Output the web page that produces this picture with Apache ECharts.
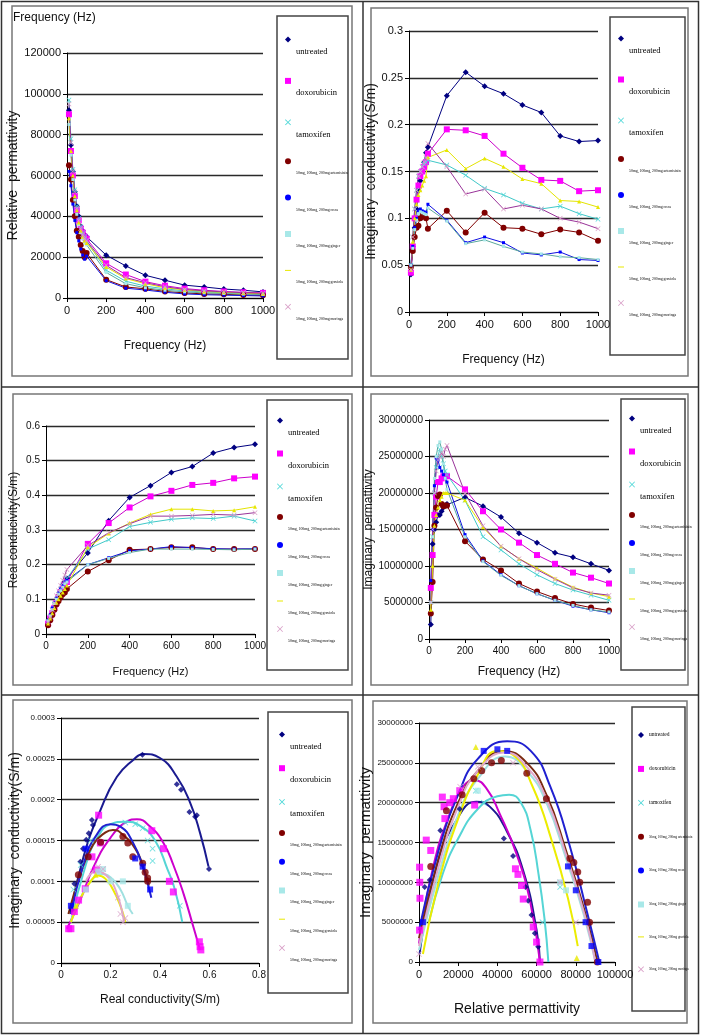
<!DOCTYPE html>
<html><head><meta charset="utf-8">
<script src="https://cdn.jsdelivr.net/npm/echarts@6/dist/echarts.min.js"></script>
<style>html,body{margin:0;padding:0;background:#fff}#c{width:701px;height:1036px}</style>
</head><body><div id="c"></div><script>
// ---------- data ----------
const names = ['untreated','doxorubicin','tamoxifen','50mg, 100mg, 200mg artemisinin','50mg, 100mg, 200mg cress','50mg, 100mg, 200mg ginger','50mg, 100mg, 200mg graviola','50mg, 100mg, 200mg moringa'];
const freq = [10,20,30,40,50,60,70,80,90,100,200,300,400,500,600,700,800,900,1000];

// Panel 1: relative permittivity vs frequency
const relPerm = [
 [92000,75000,62000,52000,45000,40000,35000,33000,31000,30000,21000,15700,11100,8700,6300,5400,4400,3800,3000],
 [90000,72000,60000,50000,43000,38000,34000,32000,30000,29000,17000,11500,8000,6000,4600,3800,3200,2800,2500],
 [97000,78000,63000,53000,45000,39000,35000,32000,30000,28000,13600,8200,5800,4500,3500,3000,2500,2200,2000],
 [65000,58000,48000,40000,33000,30000,26000,23000,20000,22000,9000,5400,4500,3200,2500,2000,1800,1500,1300],
 [62000,55000,46000,38000,32000,28000,24000,21000,19000,20500,8500,4800,3900,2800,2000,1600,1400,1200,1000],
 [85000,70000,58000,48000,41000,36000,32000,29000,27000,26000,12500,7000,5000,3800,3000,2500,2200,1900,1700],
 [88000,72000,60000,50000,43000,37000,33000,30000,28000,27000,15200,9500,7000,5000,4000,3200,2800,2400,2100],
 [95000,76000,62000,52000,44000,38000,34000,31000,29000,28000,16000,10000,7500,5500,4200,3500,3000,2600,2300]
];
// Panel 2: imaginary conductivity vs frequency
const imagCond = [
 [0.04,0.07,0.09,0.11,0.13,0.14,0.15,0.16,0.17,0.176,0.231,0.256,0.241,0.233,0.221,0.213,0.188,0.182,0.183],
 [0.042,0.07,0.1,0.12,0.135,0.145,0.15,0.155,0.16,0.169,0.195,0.194,0.188,0.169,0.154,0.141,0.140,0.129,0.130],
 [0.05,0.08,0.11,0.13,0.145,0.15,0.155,0.158,0.16,0.162,0.157,0.146,0.132,0.125,0.116,0.11,0.113,0.105,0.099],
 [0.048,0.065,0.08,0.09,0.092,0.1,0.105,0.103,0.1,0.089,0.108,0.085,0.106,0.09,0.089,0.083,0.088,0.085,0.076],
 [0.05,0.07,0.09,0.1,0.108,0.11,0.108,0.107,0.106,0.115,0.098,0.074,0.080,0.074,0.063,0.061,0.064,0.056,0.055],
 [0.05,0.068,0.088,0.098,0.105,0.107,0.106,0.105,0.104,0.111,0.097,0.073,0.077,0.070,0.064,0.062,0.059,0.058,0.056],
 [0.045,0.075,0.1,0.115,0.125,0.13,0.135,0.14,0.145,0.165,0.173,0.153,0.164,0.155,0.142,0.137,0.119,0.118,0.112],
 [0.045,0.08,0.11,0.13,0.145,0.15,0.155,0.16,0.165,0.180,0.155,0.126,0.131,0.110,0.114,0.110,0.100,0.096,0.089]
];
// Panel 3: real conductivity vs frequency
const realCond = [
 [0.03,0.045,0.06,0.08,0.095,0.11,0.125,0.14,0.15,0.16,0.234,0.327,0.394,0.428,0.466,0.483,0.522,0.538,0.547],
 [0.03,0.045,0.06,0.075,0.09,0.105,0.12,0.13,0.14,0.15,0.26,0.32,0.365,0.397,0.413,0.43,0.436,0.449,0.454],
 [0.035,0.05,0.07,0.085,0.1,0.115,0.13,0.14,0.15,0.16,0.245,0.272,0.31,0.322,0.331,0.335,0.333,0.34,0.326],
 [0.025,0.04,0.055,0.07,0.085,0.095,0.105,0.115,0.12,0.13,0.18,0.213,0.243,0.245,0.25,0.25,0.245,0.245,0.245],
 [0.04,0.055,0.075,0.09,0.105,0.12,0.13,0.14,0.15,0.155,0.2,0.22,0.24,0.245,0.252,0.249,0.246,0.245,0.246],
 [0.038,0.052,0.07,0.088,0.1,0.115,0.125,0.135,0.145,0.15,0.2,0.218,0.235,0.245,0.245,0.245,0.244,0.243,0.245],
 [0.03,0.045,0.06,0.075,0.09,0.1,0.11,0.12,0.13,0.14,0.25,0.29,0.32,0.345,0.36,0.36,0.355,0.357,0.367],
 [0.035,0.05,0.07,0.09,0.11,0.125,0.14,0.155,0.17,0.186,0.255,0.292,0.318,0.34,0.34,0.342,0.345,0.343,0.35]
];
// Panel 4: imaginary permittivity vs frequency
const imagPerm = [
 [2e6,13e6,15e6,16e6,17e6,17e6,17.5e6,18e6,18.3e6,18.5e6,19.4e6,18.2e6,16.7e6,14.5e6,13.2e6,11.8e6,11.2e6,10.3e6,9.4e6],
 [7e6,11.5e6,17e6,19.5e6,21.5e6,21.5e6,22e6,22.3e6,22.3e6,22.3e6,20.5e6,17.5e6,15e6,13.2e6,11.5e6,10.3e6,9.1e6,8.4e6,7.6e6],
 [5e6,14e6,20e6,23.5e6,25e6,26e6,25e6,24e6,23e6,22.5e6,19e6,14e6,12.2e6,10.3e6,8.8e6,7.6e6,6.7e6,6e6,5.3e6],
 [3.5e6,7.8e6,15.5e6,18e6,19.6e6,19.8e6,18.5e6,18.2e6,18.3e6,18.3e6,13.4e6,10.9e6,9.4e6,7.6e6,6.5e6,5.6e6,4.8e6,4.3e6,3.9e6],
 [8e6,15e6,21e6,24.8e6,24.5e6,23.5e6,23e6,22.5e6,22e6,21.5e6,14.3e6,10.7e6,8.8e6,7.3e6,6.2e6,5.3e6,4.5e6,4e6,3.6e6],
 [5e6,14e6,22e6,25e6,26.5e6,27e6,26e6,24e6,22e6,20.5e6,14e6,10.6e6,8.7e6,7.3e6,6.2e6,5.3e6,4.6e6,4e6,3.7e6],
 [4e6,10e6,15.5e6,17e6,18e6,19e6,19.5e6,20e6,20e6,20e6,19e6,15.3e6,12.7e6,11e6,9.7e6,8.3e6,7.1e6,6.3e6,5.8e6],
 [5e6,15e6,20e6,23e6,24.5e6,25e6,25.5e6,25e6,26e6,26.5e6,20e6,15.5e6,12.7e6,11e6,9.5e6,8.2e6,7e6,6.3e6,6e6]
];
// Panel 5: imaginary vs real conductivity (points and fitted curves)
const condPts = [
 [[0.044,0.000065],[0.054,0.000097],[0.078,0.000124],[0.089,0.00014],[0.102,0.000151],[0.112,0.000159],[0.125,0.000175],[0.129,0.000169],[0.329,0.000255],[0.468,0.000219],[0.485,0.000212],[0.519,0.000185],[0.542,0.000179],[0.549,0.000181],[0.598,0.000115]],
 [[0.031,0.000042],[0.04,0.000042],[0.054,0.000063],[0.071,0.000077],[0.098,0.000091],[0.125,0.00013],[0.143,0.000114],[0.152,0.000181],[0.159,0.000147],[0.367,0.000162],[0.414,0.00014],[0.438,0.0001],[0.454,0.000087],[0.559,0.000026],[0.562,0.00002],[0.565,0.000016]],
 [[0.05,0.00009],[0.08,0.00012],[0.12,0.00015],[0.26,0.000172],[0.3,0.00017],[0.33,0.000165],[0.35,0.00015],[0.37,0.00014],[0.37,0.000125],[0.48,0.00007]],
 [[0.07,0.000108],[0.11,0.00013],[0.16,0.000148],[0.25,0.000155],[0.27,0.000147],[0.29,0.00013],[0.33,0.000122],[0.34,0.000111],[0.35,0.000104],[0.35,0.0001]],
 [[0.04,0.00007],[0.1,0.00014],[0.3,0.000128],[0.33,0.000118],[0.36,0.00009]],
 [[0.1,0.00009],[0.15,0.000112],[0.17,0.000115],[0.2,0.0001],[0.25,0.0001],[0.27,0.00007]],
 [[0.06,0.00007],[0.14,0.000108]],
 [[0.13,0.000112],[0.15,0.000118],[0.17,0.000115],[0.23,0.00008],[0.24,0.00006],[0.25,0.00005],[0.26,0.000055]]
];
const condFit = [
 [[0.038,0.00006],[0.091,0.00013],[0.159,0.000187],[0.226,0.000228],[0.293,0.000249],[0.333,0.000256],[0.4,0.000251],[0.468,0.000228],[0.522,0.000196],[0.562,0.000159],[0.596,0.000118]],
 [[0.024,0.000042],[0.078,0.000077],[0.132,0.000118],[0.199,0.000153],[0.266,0.000173],[0.307,0.000176],[0.36,0.000167],[0.414,0.000147],[0.454,0.00012],[0.495,0.000085],[0.535,0.000044],[0.562,0.000016]],
 [[0.04,0.00005],[0.1,0.00012],[0.15,0.000155],[0.2,0.00017],[0.26,0.000173],[0.32,0.000168],[0.38,0.00015],[0.43,0.000115],[0.46,0.00009],[0.49,0.00005]],
 [[0.03,0.00006],[0.08,0.00011],[0.13,0.000145],[0.18,0.00016],[0.21,0.000163],[0.25,0.000157],[0.3,0.00014],[0.33,0.00012],[0.355,0.000095]],
 [[0.04,0.00006],[0.09,0.00012],[0.14,0.000155],[0.2,0.00017],[0.24,0.000167],[0.29,0.000148],[0.33,0.000118],[0.365,0.00008]],
 [[0.04,0.00005],[0.08,0.00008],[0.12,0.0001],[0.16,0.000109],[0.2,0.000105],[0.24,0.00009],[0.27,0.00007],[0.29,0.00006]],
 [[0.04,0.00005],[0.08,0.00008],[0.12,0.0001],[0.15,0.000107],[0.18,0.000103],[0.21,0.00009],[0.24,0.00007],[0.26,0.00005]],
 [[0.1,0.0001],[0.14,0.000112],[0.18,0.000108],[0.22,0.00009],[0.255,0.00005]]
];
// Panel 6: imaginary vs relative permittivity (points and fitted curves)
const permPts = [
 [[2900,9.4e6],[5500,10.3e6],[10900,16.5e6],[20800,19.2e6],[43300,15.5e6],[48000,13.3e6],[54300,9.4e6],[55700,7.7e6],[57400,5.9e6],[59100,3.6e6],[60800,1.9e6]],
 [[300,11.9e6],[400,10e6],[500,8e6],[300,4e6],[3700,15.3e6],[6000,14e6],[11900,20.7e6],[12800,19.5e6],[13200,18e6],[15700,20e6],[17500,20.5e6],[20800,21.5e6],[28400,19.7e6],[49200,11.7e6],[50500,11e6],[52300,9.6e6],[53200,7.9e6],[58300,4.4e6],[60000,2.5e6],[61700,0]],
 [[29000,21.5e6],[33000,20e6],[63000,5e6],[72000,9.4e6]],
 [[6000,12e6],[14000,19e6],[22000,21e6],[28000,23e6],[32000,24e6],[37000,25e6],[42000,25.3e6],[55000,23.7e6],[65000,20.5e6],[77000,13e6],[79000,12.5e6],[81000,11.3e6],[82000,10e6],[86000,7.5e6],[87000,5e6],[91000,0]],
 [[2000,5e6],[33000,26.5e6],[40000,26.7e6],[45000,26.5e6],[76000,12e6],[80000,9e6],[85000,5e6],[88000,2e6],[91500,0]],
 [[30000,21.5e6],[72000,10e6],[75000,9e6]],
 [[29000,27e6],[80500,0.5e6]],
 [[0,1e6],[21000,22e6],[30000,24.5e6],[48000,25e6],[72000,10e6],[80000,5e6]]
];
const permFit = [
 [[300,1e6],[8900,11.9e6],[19100,17.8e6],[29300,20.1e6],[36100,19.5e6],[44600,16.5e6],[53100,11.5e6],[60000,4e6],[61700,0]],
 [[0,2.3e6],[7200,11.9e6],[15700,18.6e6],[22500,22e6],[28400,22.8e6],[34400,21.8e6],[41200,18.6e6],[49700,13.6e6],[56600,7.7e6],[61700,0]],
 [[5000,5e6],[12000,11e6],[20000,15.5e6],[30000,19.2e6],[40000,20.8e6],[46000,21e6],[52000,20e6],[57000,16.5e6],[61000,11e6],[64000,5.5e6],[66000,0]],
 [[0,3e6],[10000,13e6],[20000,20e6],[30000,24e6],[43000,26.5e6],[55000,25e6],[65000,21e6],[75000,14e6],[85000,6e6],[91000,0]],
 [[0,4e6],[10000,14e6],[20000,21e6],[30000,25.5e6],[45000,27.7e6],[57000,26.5e6],[67000,22e6],[77000,14.5e6],[86000,6e6],[92000,0]],
 [[0,1.5e6],[10000,11e6],[20000,18.5e6],[30000,23e6],[44000,25.8e6],[55000,24e6],[65000,20e6],[75000,13e6],[84000,6e6],[90000,0]],
 [[2000,1e6],[10000,10e6],[20000,18e6],[30000,23.5e6],[40000,26.5e6],[48000,26e6],[58000,22e6],[68000,15e6],[76000,8e6],[81000,2e6]],
 [[0,2e6],[10000,12e6],[20000,19.5e6],[30000,24e6],[44000,26.3e6],[55000,24.5e6],[65000,20.5e6],[75000,13.5e6],[85000,5.5e6],[90000,0]]
];

// ---------- style ----------
const XSYM = 'path://M0,1L1,0L5,4L9,0L10,1L6,5L10,9L9,10L5,6L1,10L0,9L4,5Z';
const DASH = 'path://M0,0L12,0L12,2L0,2Z';
const lineColors = ['#000080','#cc00cc','#40c8c8','#800000','#1010e0','#5aa89c','#e4e400','#993399'];
const markColors = ['#000080','#ff00ff','#50d8d8','#800000','#0000ff','#a8e8e8','#e8e800','#d9a0c8'];
const fitColors  = ['#1a1a90','#cc00cc','#55d5d5','#7a2a10','#2020d0','#a0e0e0','#ecec00','#e0a8cc'];
const symbols = ['diamond','rect',XSYM,'circle','rect','rect','triangle',XSYM];
const symSize = [6,6,5,6,3,3,4,5];
const legIcons = ['diamond','rect',XSYM,'circle','circle','rect',DASH,XSYM];
const FONT = 'Liberation Sans';
const fmt = v => String(+(+v).toPrecision(10));

const grids = [
 {left:67, top:53, width:196, height:245},
 {left:409, top:31, width:189, height:281},
 {left:46, top:426, width:209, height:208},
 {left:429, top:420, width:180, height:219},
 {left:61, top:718, width:198, height:245},
 {left:419, top:723, width:196, height:239}
];
const xCfg = [
 {max:1000, interval:200, name:'Frequency (Hz)', gap:42, fs:12, lfs:11},
 {max:1000, interval:200, name:'Frequency (Hz)', gap:42, fs:12, lfs:11},
 {max:1000, interval:200, name:'Frequency (Hz)', gap:32, fs:11, lfs:10},
 {max:1000, interval:200, name:'Frequency (Hz)', gap:27, fs:12, lfs:10},
 {max:0.8, interval:0.2, name:'Real conductivity(S/m)', gap:31, fs:12, lfs:10},
 {max:100000, interval:20000, name:'Relative permattivity', gap:40, fs:14, lfs:11}
];
const yCfg = [
 {max:120000, interval:20000, name:'Relative  permattivity', gap:45, fs:14, lfs:11},
 {max:0.3, interval:0.05, name:'Imaginary  conductivity(S/m)', gap:26, fs:14, lfs:11},
 {max:0.6, interval:0.1, name:'Real conducivity(S/m)', gap:26, fs:12, lfs:10},
 {max:30000000, interval:5000000, name:'Imaginary  permattivity', gap:46, fs:12, lfs:10},
 {max:0.0003, interval:0.00005, name:'Imaginary  conductivity(S/m)', gap:28, fs:14, lfs:8},
 {max:30000000, interval:5000000, name:'Imaginary  permattivity', gap:36, fs:15, lfs:8}
];
const xAxis = xCfg.map((c,i)=>({
 type:'value', gridIndex:i, min:0, max:c.max, interval:c.interval,
 name:c.name, nameLocation:'middle', nameGap:c.gap,
 nameTextStyle:{fontFamily:FONT, fontSize:c.fs, color:'#111'},
 axisLine:{show:true, onZero:false, lineStyle:{color:'#000', width:1}},
 axisTick:{show:true, length:4, lineStyle:{color:'#000'}},
 axisLabel:{fontFamily:FONT, fontSize:c.lfs, color:'#111', margin:7, formatter:fmt, hideOverlap:false},
 splitLine:{show:false}
}));
const yAxis = yCfg.map((c,i)=>({
 type:'value', gridIndex:i, min:0, max:c.max, interval:c.interval,
 name:c.name, nameLocation:'middle', nameGap:c.gap,
 nameTextStyle:{fontFamily:FONT, fontSize:c.fs, color:'#111'},
 axisLine:{show:true, lineStyle:{color:'#000', width:1}},
 axisTick:{show:true, length:4, lineStyle:{color:'#000'}},
 axisLabel:{fontFamily:FONT, fontSize:c.lfs, color:'#111', margin:6, formatter:fmt, hideOverlap:false},
 splitLine:{show:true, lineStyle:{color:'#2a2a2a', width:1.3}}
}));

const series = [];
[relPerm, imagCond, realCond, imagPerm].forEach((tbl,p)=>{
 tbl.forEach((vals,s)=>{
  series.push({
   type:'line', name:names[s], xAxisIndex:p, yAxisIndex:p,
   data: freq.map((f,k)=>[f, vals[k]]),
   symbol:symbols[s], symbolSize:symSize[s], showAllSymbol:true,
   lineStyle:{width:1, color:lineColors[s]},
   itemStyle:{color:markColors[s]}
  });
 });
});
[[condPts,condFit,4],[permPts,permFit,5]].forEach(([pts,fit,p])=>{
 fit.forEach((curve,s)=>{
  series.push({
   type:'line', name:names[s], xAxisIndex:p, yAxisIndex:p, data:curve,
   smooth:0.5, showSymbol:false, symbol:'none',
   lineStyle:{width:2, color:fitColors[s]}, itemStyle:{color:fitColors[s]}
  });
 });
 pts.forEach((pp,s)=>{
  series.push({
   type:'scatter', name:names[s], xAxisIndex:p, yAxisIndex:p, data:pp,
   symbol:symbols[s], symbolSize:s===1?7:(s===3?7:6),
   itemStyle:{color:markColors[s]}, z:3
  });
 });
});

function legend(left, top, gap, fb, fs, pad){
 return {
  orient:'vertical', left, top, itemGap:gap, itemWidth:6, itemHeight:6, padding:0,
  selectedMode:false, icon:'rect',
  data: names.map((n,i)=>({name:n, icon:legIcons[i], itemStyle:{color:markColors[i]}})),
  formatter: n => n.length>12 ? '{s|'+n+'}' : '{b|'+n+'}',
  textStyle:{rich:{
   b:{fontSize:fb, fontFamily:'Liberation Serif', color:'#000', lineHeight:10, padding:[pad,0,0,0]},
   s:{fontSize:fs, fontFamily:'Liberation Serif', color:'#000', lineHeight:10, padding:[pad,0,0,0]}
  }}
 };
}
const legends = [
 legend(285, 23, 8.4, 8.5, 3.8, 24),
 legend(618, 22, 8, 8.5, 3.8, 24),
 legend(277, 404, 0, 8.5, 3.8, 24),
 legend(629, 402, 0, 8.5, 3.8, 24),
 legend(279, 718, 0.7, 8.5, 3.8, 24),
 legend(638, 732, 27.9, 5.5, 3.2, 0)
];

const box = (x,y,w,h,c,lw)=>({type:'rect', shape:{x,y,width:w,height:h}, style:{fill:'none', stroke:c, lineWidth:lw}, silent:true});
const ln = (x1,y1,x2,y2)=>({type:'line', shape:{x1,y1,x2,y2}, style:{stroke:'#333', lineWidth:1.5}, silent:true});
const graphic = [
 box(1.5,1.5,697,1032,'#333',1.5),
 ln(363,2,363,1034), ln(2,387,699,387), ln(2,695,699,695),
 box(12,6,340,370,'#777',1.5), box(371,8,317,368,'#777',1.5),
 box(13,394,339,291,'#777',1.5), box(371,394,317,291,'#777',1.5),
 box(13,700,339,323,'#777',1.5), box(373,701,314,322,'#777',1.5),
 box(277,16,71,343,'#444',1.5), box(610,17,75,338,'#444',1.5),
 box(267,400,81,270,'#444',1.5), box(621,399,64,271,'#444',1.5),
 box(268,712,80,281,'#444',1.5), box(632,707,53,304,'#444',1.5),
 {type:'text', left:13, top:12, style:{text:'Frequency (Hz)', font:'12px "Liberation Sans"', fill:'#111'}, silent:true}
];

const chart = echarts.init(document.getElementById('c'), null, {renderer:'canvas'});
chart.setOption({
 animation:false, backgroundColor:'#fff',
 grid:grids, xAxis, yAxis, series, legend:legends, graphic
});
</script></body></html>
